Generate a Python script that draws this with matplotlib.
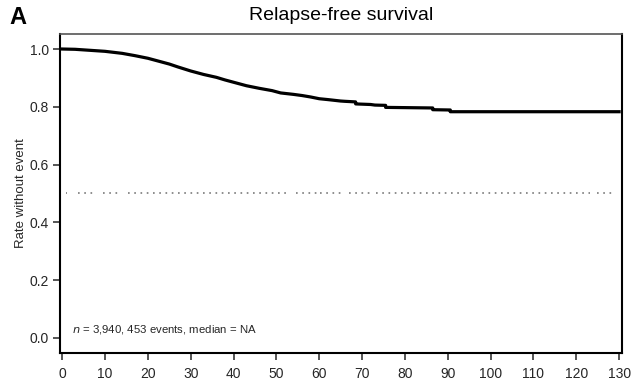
import matplotlib
matplotlib.use("Agg")
import matplotlib.pyplot as plt

# relapse-free survival curve (months, proportion without event)
months = [0, 3, 6, 10, 14, 17, 20, 22, 25, 27, 30, 33, 36, 38, 41, 43, 46, 49,
          51, 54, 56, 58, 60, 62, 65, 66, 68.5, 68.5, 72, 73, 75.5, 75.5,
          86.5, 86.5, 90.6, 90.6, 130]
survival = [1.0, 0.999, 0.996, 0.992, 0.985, 0.977, 0.968, 0.960, 0.948, 0.938,
            0.924, 0.912, 0.902, 0.893, 0.881, 0.873, 0.864, 0.856, 0.848,
            0.843, 0.839, 0.834, 0.828, 0.825, 0.820, 0.819, 0.817, 0.810,
            0.808, 0.806, 0.805, 0.798, 0.796, 0.790, 0.789, 0.783, 0.783]

# dotted median reference line, drawn in pieces
median_level = 0.5
median_pieces = [(0.9, 1.2), (3.7, 7.9), (9.6, 13.7), (15.4, 52.9), (54.5, 59.4),
                 (60.3, 65.2), (66.9, 71.8), (73.2, 78.1), (79.0, 123.3),
                 (124.9, 129.1)]

x_ticks = list(range(0, 131, 10))
y_ticks = [0.0, 0.2, 0.4, 0.6, 0.8, 1.0]
y_tick_labels = ["0.0", "0.2", "0.4", "0.6", "0.8", "1.0"]

plt.rcParams['font.family'] = ['Liberation Sans', 'DejaVu Sans']
plt.rcParams['lines.scale_dashes'] = False

fig = plt.figure(figsize=(6.4, 3.88), dpi=100)
ax = fig.add_axes([0.0938, 0.0902, 0.8782, 0.8222])

for a, b in median_pieces:
    ax.plot([a, b], [median_level, median_level], color='#7a7a7a',
            linewidth=1.2, dashes=(1.2, 3.3), dash_capstyle='butt')

ax.plot(months, survival, color='black', linewidth=2.3, solid_joinstyle='round')

ax.set_xlim(-0.5, 130.7)
ax.set_ylim(-0.052, 1.052)
ax.set_xticks(x_ticks)
ax.set_yticks(y_ticks)
ax.set_yticklabels(y_tick_labels)
ax.tick_params(axis='both', length=5, width=1.1, colors='#262626',
               labelsize=10, pad=3)
ax.tick_params(axis='x', pad=5)

for side in ['left', 'bottom', 'right']:
    ax.spines[side].set_linewidth(1.5)
    ax.spines[side].set_color('black')
ax.spines['top'].set_linewidth(1.2)
ax.spines['top'].set_color('#555555')

ax.set_ylabel('Rate without event', fontsize=9.5, color='#262626', labelpad=2)
ax.set_title('Relapse-free survival', fontsize=14, pad=10)

ax.text(2.4, 0.028, r'$\it{n}$ = 3,940, 453 events, median = NA',
        fontsize=8.2, va='center', ha='left', color='#262626')

fig.text(0.014, 0.955, 'A', fontsize=17, fontweight='bold', va='center')

fig.savefig('out.png', dpi=100)
